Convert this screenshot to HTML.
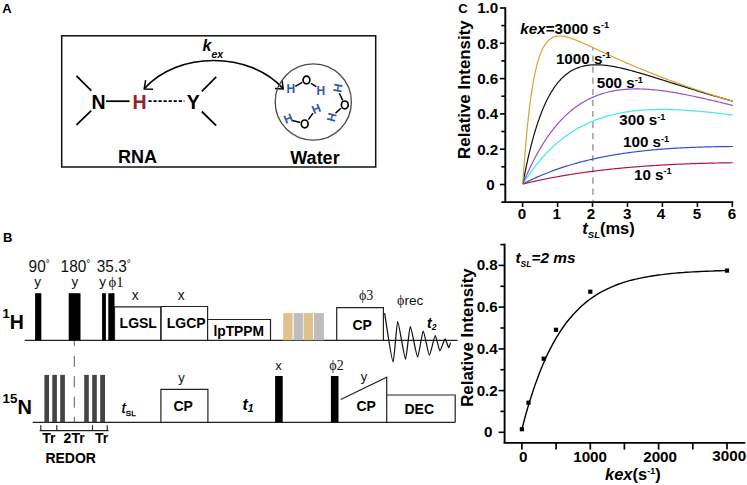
<!DOCTYPE html>
<html><head><meta charset="utf-8"><title>Figure</title>
<style>
html,body{margin:0;padding:0;background:#fff;}
body{width:747px;height:485px;overflow:hidden;}
svg{display:block;font-family:"Liberation Sans",sans-serif;}
.b{font-weight:bold;}
.i{font-style:italic;}
.ser{font-family:"Liberation Serif",serif;}
</style></head><body>
<svg width="747" height="485" viewBox="0 0 747 485">
<rect width="747" height="485" fill="#fff"/>
<!-- panel labels -->
<g class="b" font-size="13" fill="#000">
<text x="2.3" y="13">A</text>
<text x="3" y="242.2">B</text>
<text x="458.3" y="12.6">C</text>
</g>

<!-- Panel A -->
<g id="panelA">
<rect x="61.7" y="35.8" width="314" height="131.2" fill="none" stroke="#111" stroke-width="1.5"/>
<g class="b" font-size="19.5" fill="#000">
<text x="91.5" y="108.8">N</text>
<text x="132.5" y="108.8" fill="#96202a">H</text>
<text x="186.7" y="108.6">Y</text>
</g>
<g stroke="#000" stroke-width="1.75" fill="none">
<line x1="106.1" y1="101.2" x2="129.6" y2="101.2"/>
<line x1="148.4" y1="101.2" x2="184.4" y2="101.2" stroke-dasharray="3.2,1.85"/>
<line x1="76.5" y1="75.9" x2="91.3" y2="90.6"/>
<line x1="76.5" y1="124.9" x2="91.3" y2="110.6"/>
<line x1="201.8" y1="91.3" x2="216.2" y2="76.9"/>
<line x1="201.8" y1="111.5" x2="216.2" y2="125.6"/>
</g>
<g class="b" font-size="18" fill="#000">
<text x="118" y="162.6">RNA</text>
<text x="290.3" y="164.2">Water</text>
</g>
<text class="b i" font-size="16" x="202.5" y="51.4">k<tspan font-size="10.5" dy="6.2">ex</tspan></text>
<!-- arc -->
<path d="M144.4,88.6 C178,51.1 249.4,51.3 283,88.6" fill="none" stroke="#000" stroke-width="1.6"/>
<path d="M145.6,80.2 L144.2,89 L153.1,89.3" fill="none" stroke="#000" stroke-width="1.5"/>
<path d="M282.1,80.5 L283.2,88.9 L274.9,88.5" fill="none" stroke="#000" stroke-width="1.5"/>
<!-- water -->
<circle cx="313.3" cy="102" r="38.1" fill="none" stroke="#4a4a4a" stroke-width="1.3"/>
<g stroke="#000" stroke-width="1.5" fill="none">
<line x1="295.3" y1="86.3" x2="302.2" y2="82.4"/>
<line x1="311" y1="83.4" x2="316.3" y2="86.7"/>
<line x1="292.4" y1="120.6" x2="300.2" y2="122.5"/>
<line x1="308.4" y1="119.6" x2="312.9" y2="113.3"/>
<line x1="339.4" y1="93.2" x2="342.7" y2="100.4"/>
<line x1="340.9" y1="108.2" x2="335.5" y2="113.3"/>
<ellipse cx="306.5" cy="80" rx="3.4" ry="3.9" stroke-width="1.7"/>
<ellipse cx="304.7" cy="123.9" rx="3.4" ry="3.9" stroke-width="1.7"/>
<ellipse cx="344.8" cy="104.9" rx="3.4" ry="3.9" stroke-width="1.7"/>
</g>
<g class="b" font-size="12" fill="#3157b2" text-anchor="middle">
<text x="290.8" y="93.3">H</text>
<text x="320.8" y="94.9">H</text>
<text transform="translate(288.1,118.6) rotate(-22)" x="0" y="4.1">H</text>
<text transform="translate(316.3,108.8) rotate(-22)" x="0" y="4.1">H</text>
<text transform="translate(337.8,87.9) rotate(100)" x="0" y="4.1">H</text>
<text transform="translate(331.5,117.2) rotate(105)" x="0" y="4.1">H</text>
</g>
</g>

<!-- Panel B -->
<g id="panelB">
<g stroke="#222" stroke-width="1.2" fill="none">
<line x1="24.8" y1="340.3" x2="457.5" y2="340.3"/>
<line x1="32.7" y1="422.4" x2="455.3" y2="422.4"/>
<path d="M74.3,340.9 V345.8 M74.3,355.8 V366.9 M74.3,376.2 V387.3 M74.3,396.6 V407.7 M74.3,417 V422" stroke="#333" stroke-width="0.8"/>
</g>
<g fill="#000">
<rect x="35.1" y="293.2" width="6.2" height="47.1"/>
<rect x="68.7" y="293.2" width="11.8" height="47.1"/>
<rect x="102.1" y="293.2" width="3.8" height="47.1"/>
<rect x="108.3" y="293.2" width="6.2" height="47.1"/>
<rect x="275.1" y="376" width="7.6" height="46.2"/>
<rect x="330.9" y="376" width="7.6" height="46.2"/>
</g>
<g fill="#444">
<rect x="44.4" y="374.9" width="4.6" height="47.3"/>
<rect x="52.3" y="374.9" width="4.6" height="47.3"/>
<rect x="60.2" y="374.9" width="4.7" height="47.3"/>
<rect x="84.2" y="374.9" width="4.6" height="47.3"/>
<rect x="92.2" y="374.9" width="4.6" height="47.3"/>
<rect x="100.2" y="374.9" width="4.8" height="47.3"/>
</g>
<rect x="283.2" y="313.1" width="9.4" height="27.2" fill="#dfc18c"/>
<rect x="293.7" y="313.1" width="9.2" height="27.2" fill="#bdbdbd"/>
<rect x="303.6" y="313.1" width="9.4" height="27.2" fill="#dfc18c"/>
<rect x="314" y="313.1" width="9.9" height="27.2" fill="#bdbdbd"/>
<g stroke="#222" stroke-width="1.2" fill="none">
<path d="M114.5,340.3 V306.9 H160.9 V340.3"/>
<path d="M160.9,340.3 V306.5 H207.6 V340.3"/>
<path d="M207.6,319.5 H270.5 V340.3"/>
<path d="M336.7,340.3 V307.6 H383.4 V340.3"/>
<path d="M160.9,422.2 V389.3 H207.9 V422.2"/>
<path d="M340.7,399.5 L386.7,377.2 V422.2"/>
<path d="M386.8,395 H455.2 V422.2"/>
<path d="M384.6,313.2C386.6,325.2 391.7,362.0 393.2,362C394.0,362.0 396.8,321.5 397.6,321.5C399.0,321.5 404.2,359.2 405.6,359.2C406.4,359.2 409.4,326.7 410.2,326.7C411.6,326.7 416.3,357.0 417.7,357C418.7,357.0 422.2,331.0 423.2,331C424.3,331.0 428.3,355.1 429.4,355.1C430.5,355.1 434.2,335.5 435.3,335.5C436.1,335.5 439.1,350.9 439.9,350.9C440.8,350.9 444.2,338.8 445.1,338.8C445.8,338.8 448.1,347.7 448.8,347.7C449.1,347.7 450.4,342.5 450.7,342.5" stroke="#111" stroke-width="1.25"/>
<!-- brackets -->
<path d="M39.7,430.6 H108.6 M40.8,425.3 V430.6 M56.8,425.3 V430.6 M92.5,425.3 V430.6 M107.2,425.3 V430.6" stroke-width="1.15"/>
</g>
<g font-size="15.4" fill="#111" transform="translate(0,272.3) scale(1,1.08) translate(0,-272.3)">
<text x="28.6" y="272.3">90<tspan font-size="10" dy="-5.2">°</tspan></text>
<text x="60.6" y="272.3">180<tspan font-size="10" dy="-5.2">°</tspan></text>
<text x="96.8" y="272.3">35.3<tspan font-size="10" dy="-5.2">°</tspan></text>
</g>
<g font-size="13" fill="#111" text-anchor="middle">
<text x="37.6" y="285.5" font-size="13.6">y</text>
<text x="74.8" y="285.5" font-size="13.6">y</text>
<text x="102.6" y="285.5" font-size="13.6">y</text>
<text x="135.1" y="300.2" font-size="13.8">x</text>
<text x="181.1" y="300.2" font-size="13.8">x</text>
<text x="181.6" y="381.7">y</text>
<text x="278.6" y="369.9">x</text>
<text x="364" y="381">y</text>
</g>
<g class="ser" font-size="14" fill="#111">
<text x="108.5" y="286.8" font-size="14.6">ϕ1</text>
<text x="359" y="300.2">ϕ3</text>
<text x="329.3" y="370">ϕ2</text>
<text x="397" y="304.8">ϕ<tspan font-family="Liberation Sans" font-size="13.6">rec</tspan></text>
</g>
<g class="b" font-size="14" fill="#000">
<text x="119.6" y="328.3">LGSL</text>
<text x="166.8" y="328.3">LGCP</text>
<text x="213.4" y="336" font-size="13.8">lpTPPM</text>
<text x="352.5" y="329.6">CP</text>
<text x="173.5" y="410.8">CP</text>
<text x="356.5" y="411">CP</text>
<text x="404.5" y="413.5">DEC</text>
<text x="42.2" y="443.2">Tr</text>
<text x="63.6" y="443.2">2Tr</text>
<text x="95" y="443.2">Tr</text>
<text x="45.4" y="462.9">REDOR</text>
</g>
<g class="b" fill="#000">
<text x="2.5" y="318.2" font-size="13">1<tspan font-size="19.5" dy="10.4">H</tspan></text>
<text x="2.6" y="402.6" font-size="13.3">15<tspan font-size="20" dy="11.6">N</tspan></text>
</g>
<text class="i" font-size="15.5" x="121.5" y="412.6" fill="#000" stroke="#000" stroke-width="0.25">t<tspan font-size="8" font-style="normal" dy="3.3" stroke-width="0.35">SL</tspan></text>
<text class="b i" font-size="16" x="242.4" y="409.6" fill="#000">t<tspan font-size="10.5" dy="2.6">1</tspan></text>
<text class="b i" font-size="14" x="427" y="328" fill="#000">t<tspan font-size="8.5" dy="2">2</tspan></text>
</g>

<!-- Panel C top -->
<g id="chartTop">
<line x1="592.9" y1="47.9" x2="592.9" y2="201.3" stroke="#a4a4a4" stroke-width="1.6" stroke-dasharray="6.2,4.9" stroke-dashoffset="3.6"/>
<path d="M522.80,184.00 L522.86,183.99 L522.96,183.96 L523.09,183.93 L523.25,183.89 L523.43,183.85 L523.63,183.80 L523.85,183.75 L524.08,183.69 L524.33,183.63 L524.59,183.57 L524.86,183.50 L525.15,183.43 L525.45,183.36 L525.76,183.29 L526.08,183.21 L526.42,183.13 L526.76,183.05 L527.11,182.97 L527.48,182.88 L527.85,182.80 L528.24,182.71 L528.63,182.62 L529.03,182.52 L529.44,182.43 L529.86,182.33 L530.29,182.23 L530.73,182.13 L531.17,182.03 L531.62,181.93 L532.08,181.83 L532.55,181.72 L533.03,181.62 L533.51,181.51 L534.00,181.40 L534.50,181.29 L535.00,181.18 L535.51,181.07 L536.03,180.95 L536.56,180.84 L537.09,180.73 L537.63,180.61 L538.18,180.49 L538.73,180.37 L539.29,180.26 L539.85,180.14 L540.43,180.02 L541.00,179.90 L541.59,179.78 L542.18,179.65 L542.77,179.53 L543.38,179.41 L543.98,179.28 L544.60,179.16 L545.22,179.03 L545.84,178.91 L546.47,178.78 L547.11,178.66 L547.75,178.53 L548.40,178.40 L549.06,178.28 L549.72,178.15 L550.38,178.02 L551.05,177.89 L551.73,177.76 L552.41,177.64 L553.09,177.51 L553.78,177.38 L554.48,177.25 L555.18,177.12 L555.89,176.99 L556.60,176.86 L557.31,176.73 L558.04,176.60 L558.76,176.47 L559.49,176.34 L560.23,176.21 L560.97,176.08 L561.72,175.95 L562.47,175.82 L563.22,175.69 L563.98,175.56 L564.75,175.44 L565.52,175.31 L566.29,175.18 L567.07,175.05 L567.86,174.92 L568.64,174.79 L569.44,174.66 L570.23,174.53 L571.04,174.41 L571.84,174.28 L572.65,174.15 L573.47,174.02 L574.29,173.90 L575.11,173.77 L575.94,173.65 L576.77,173.52 L577.61,173.39 L578.45,173.27 L579.29,173.14 L580.14,173.02 L581.00,172.90 L581.86,172.77 L582.72,172.65 L583.58,172.53 L584.45,172.41 L585.33,172.28 L586.21,172.16 L587.09,172.04 L587.98,171.92 L588.87,171.80 L589.76,171.68 L590.66,171.56 L591.56,171.45 L592.47,171.33 L593.38,171.21 L594.30,171.10 L595.21,170.98 L596.14,170.86 L597.06,170.75 L597.99,170.64 L598.93,170.52 L599.87,170.41 L600.81,170.30 L601.75,170.19 L602.70,170.08 L603.66,169.97 L604.61,169.86 L605.57,169.75 L606.54,169.64 L607.51,169.53 L608.48,169.42 L609.45,169.32 L610.43,169.21 L611.41,169.11 L612.40,169.00 L613.39,168.90 L614.38,168.80 L615.38,168.70 L616.38,168.60 L617.39,168.50 L618.40,168.40 L619.41,168.30 L620.42,168.20 L621.44,168.10 L622.46,168.01 L623.49,167.91 L624.52,167.82 L625.55,167.72 L626.59,167.63 L627.63,167.54 L628.67,167.44 L629.72,167.35 L630.77,167.26 L631.82,167.17 L632.88,167.09 L633.94,167.00 L635.00,166.91 L636.07,166.83 L637.14,166.74 L638.21,166.66 L639.29,166.57 L640.37,166.49 L641.45,166.41 L642.54,166.33 L643.63,166.25 L644.72,166.17 L645.82,166.09 L646.92,166.01 L648.02,165.94 L649.13,165.86 L650.24,165.79 L651.35,165.71 L652.47,165.64 L653.59,165.57 L654.71,165.49 L655.83,165.42 L656.96,165.35 L658.10,165.29 L659.23,165.22 L660.37,165.15 L661.51,165.08 L662.66,165.02 L663.80,164.96 L664.96,164.89 L666.11,164.83 L667.27,164.77 L668.43,164.71 L669.59,164.65 L670.76,164.59 L671.93,164.53 L673.10,164.47 L674.27,164.41 L675.45,164.36 L676.64,164.30 L677.82,164.25 L679.01,164.20 L680.20,164.15 L681.39,164.09 L682.59,164.04 L683.79,163.99 L684.99,163.95 L686.20,163.90 L687.41,163.85 L688.62,163.81 L689.83,163.76 L691.05,163.72 L692.27,163.67 L693.50,163.63 L694.72,163.59 L695.95,163.55 L697.18,163.51 L698.42,163.47 L699.66,163.43 L700.90,163.39 L702.14,163.36 L703.39,163.32 L704.64,163.28 L705.89,163.25 L707.15,163.22 L708.41,163.19 L709.67,163.15 L710.93,163.12 L712.20,163.09 L713.47,163.06 L714.74,163.04 L716.02,163.01 L717.29,162.98 L718.58,162.96 L719.86,162.93 L721.15,162.91 L722.44,162.88 L723.73,162.86 L725.02,162.84 L726.32,162.82 L727.62,162.80 L728.92,162.78 L730.23,162.76 L731.54,162.74 L732.85,162.73" fill="none" stroke="#b01848" stroke-width="1.2" stroke-linejoin="round"/>
<path d="M522.80,184.00 L522.86,183.97 L522.96,183.92 L523.09,183.85 L523.25,183.77 L523.43,183.67 L523.63,183.57 L523.85,183.46 L524.08,183.34 L524.33,183.21 L524.59,183.08 L524.86,182.94 L525.15,182.80 L525.45,182.64 L525.76,182.49 L526.08,182.33 L526.42,182.16 L526.76,181.99 L527.11,181.81 L527.48,181.63 L527.85,181.45 L528.24,181.26 L528.63,181.07 L529.03,180.87 L529.44,180.67 L529.86,180.47 L530.29,180.27 L530.73,180.06 L531.17,179.85 L531.62,179.64 L532.08,179.42 L532.55,179.20 L533.03,178.98 L533.51,178.76 L534.00,178.53 L534.50,178.30 L535.00,178.07 L535.51,177.84 L536.03,177.61 L536.56,177.38 L537.09,177.14 L537.63,176.90 L538.18,176.66 L538.73,176.42 L539.29,176.18 L539.85,175.94 L540.43,175.69 L541.00,175.45 L541.59,175.20 L542.18,174.95 L542.77,174.71 L543.38,174.46 L543.98,174.21 L544.60,173.96 L545.22,173.71 L545.84,173.46 L546.47,173.20 L547.11,172.95 L547.75,172.70 L548.40,172.45 L549.06,172.20 L549.72,171.94 L550.38,171.69 L551.05,171.44 L551.73,171.18 L552.41,170.93 L553.09,170.68 L553.78,170.42 L554.48,170.17 L555.18,169.92 L555.89,169.67 L556.60,169.41 L557.31,169.16 L558.04,168.91 L558.76,168.66 L559.49,168.41 L560.23,168.16 L560.97,167.91 L561.72,167.66 L562.47,167.41 L563.22,167.17 L563.98,166.92 L564.75,166.67 L565.52,166.43 L566.29,166.18 L567.07,165.94 L567.86,165.70 L568.64,165.46 L569.44,165.22 L570.23,164.98 L571.04,164.74 L571.84,164.50 L572.65,164.26 L573.47,164.03 L574.29,163.79 L575.11,163.56 L575.94,163.33 L576.77,163.10 L577.61,162.87 L578.45,162.64 L579.29,162.41 L580.14,162.18 L581.00,161.96 L581.86,161.73 L582.72,161.51 L583.58,161.29 L584.45,161.07 L585.33,160.85 L586.21,160.64 L587.09,160.42 L587.98,160.21 L588.87,160.00 L589.76,159.78 L590.66,159.58 L591.56,159.37 L592.47,159.16 L593.38,158.96 L594.30,158.75 L595.21,158.55 L596.14,158.35 L597.06,158.15 L597.99,157.96 L598.93,157.76 L599.87,157.57 L600.81,157.37 L601.75,157.18 L602.70,156.99 L603.66,156.81 L604.61,156.62 L605.57,156.44 L606.54,156.26 L607.51,156.08 L608.48,155.90 L609.45,155.72 L610.43,155.54 L611.41,155.37 L612.40,155.20 L613.39,155.03 L614.38,154.86 L615.38,154.69 L616.38,154.53 L617.39,154.37 L618.40,154.20 L619.41,154.04 L620.42,153.89 L621.44,153.73 L622.46,153.58 L623.49,153.42 L624.52,153.27 L625.55,153.12 L626.59,152.98 L627.63,152.83 L628.67,152.69 L629.72,152.54 L630.77,152.40 L631.82,152.27 L632.88,152.13 L633.94,151.99 L635.00,151.86 L636.07,151.73 L637.14,151.60 L638.21,151.47 L639.29,151.35 L640.37,151.22 L641.45,151.10 L642.54,150.98 L643.63,150.86 L644.72,150.74 L645.82,150.63 L646.92,150.51 L648.02,150.40 L649.13,150.29 L650.24,150.18 L651.35,150.07 L652.47,149.97 L653.59,149.87 L654.71,149.76 L655.83,149.66 L656.96,149.57 L658.10,149.47 L659.23,149.37 L660.37,149.28 L661.51,149.19 L662.66,149.10 L663.80,149.01 L664.96,148.92 L666.11,148.84 L667.27,148.76 L668.43,148.67 L669.59,148.59 L670.76,148.52 L671.93,148.44 L673.10,148.36 L674.27,148.29 L675.45,148.22 L676.64,148.15 L677.82,148.08 L679.01,148.01 L680.20,147.95 L681.39,147.88 L682.59,147.82 L683.79,147.76 L684.99,147.70 L686.20,147.64 L687.41,147.59 L688.62,147.53 L689.83,147.48 L691.05,147.43 L692.27,147.38 L693.50,147.33 L694.72,147.28 L695.95,147.23 L697.18,147.19 L698.42,147.15 L699.66,147.11 L700.90,147.07 L702.14,147.03 L703.39,146.99 L704.64,146.95 L705.89,146.92 L707.15,146.89 L708.41,146.86 L709.67,146.82 L710.93,146.80 L712.20,146.77 L713.47,146.74 L714.74,146.72 L716.02,146.69 L717.29,146.67 L718.58,146.65 L719.86,146.63 L721.15,146.61 L722.44,146.59 L723.73,146.58 L725.02,146.56 L726.32,146.55 L727.62,146.54 L728.92,146.53 L730.23,146.52 L731.54,146.51 L732.85,146.50" fill="none" stroke="#3050d0" stroke-width="1.2" stroke-linejoin="round"/>
<path d="M522.80,184.00 L522.86,183.91 L522.96,183.75 L523.09,183.54 L523.25,183.29 L523.43,183.01 L523.63,182.70 L523.85,182.36 L524.08,182.00 L524.33,181.62 L524.59,181.21 L524.86,180.79 L525.15,180.36 L525.45,179.90 L525.76,179.43 L526.08,178.95 L526.42,178.45 L526.76,177.94 L527.11,177.41 L527.48,176.88 L527.85,176.33 L528.24,175.78 L528.63,175.21 L529.03,174.64 L529.44,174.06 L529.86,173.47 L530.29,172.87 L530.73,172.26 L531.17,171.65 L531.62,171.03 L532.08,170.41 L532.55,169.78 L533.03,169.14 L533.51,168.50 L534.00,167.86 L534.50,167.21 L535.00,166.56 L535.51,165.90 L536.03,165.25 L536.56,164.59 L537.09,163.92 L537.63,163.26 L538.18,162.59 L538.73,161.92 L539.29,161.25 L539.85,160.58 L540.43,159.91 L541.00,159.24 L541.59,158.57 L542.18,157.90 L542.77,157.23 L543.38,156.56 L543.98,155.89 L544.60,155.22 L545.22,154.55 L545.84,153.88 L546.47,153.22 L547.11,152.55 L547.75,151.89 L548.40,151.23 L549.06,150.57 L549.72,149.92 L550.38,149.26 L551.05,148.61 L551.73,147.97 L552.41,147.32 L553.09,146.68 L553.78,146.05 L554.48,145.41 L555.18,144.78 L555.89,144.15 L556.60,143.53 L557.31,142.91 L558.04,142.30 L558.76,141.69 L559.49,141.08 L560.23,140.48 L560.97,139.88 L561.72,139.29 L562.47,138.70 L563.22,138.12 L563.98,137.54 L564.75,136.97 L565.52,136.40 L566.29,135.84 L567.07,135.28 L567.86,134.73 L568.64,134.18 L569.44,133.64 L570.23,133.10 L571.04,132.57 L571.84,132.05 L572.65,131.53 L573.47,131.01 L574.29,130.51 L575.11,130.01 L575.94,129.51 L576.77,129.02 L577.61,128.54 L578.45,128.06 L579.29,127.59 L580.14,127.12 L581.00,126.66 L581.86,126.21 L582.72,125.76 L583.58,125.32 L584.45,124.89 L585.33,124.46 L586.21,124.04 L587.09,123.62 L587.98,123.21 L588.87,122.81 L589.76,122.41 L590.66,122.02 L591.56,121.63 L592.47,121.26 L593.38,120.89 L594.30,120.52 L595.21,120.16 L596.14,119.81 L597.06,119.46 L597.99,119.12 L598.93,118.79 L599.87,118.46 L600.81,118.14 L601.75,117.83 L602.70,117.52 L603.66,117.22 L604.61,116.92 L605.57,116.63 L606.54,116.35 L607.51,116.07 L608.48,115.80 L609.45,115.54 L610.43,115.28 L611.41,115.02 L612.40,114.78 L613.39,114.54 L614.38,114.30 L615.38,114.08 L616.38,113.85 L617.39,113.64 L618.40,113.43 L619.41,113.22 L620.42,113.03 L621.44,112.83 L622.46,112.65 L623.49,112.47 L624.52,112.29 L625.55,112.12 L626.59,111.96 L627.63,111.80 L628.67,111.65 L629.72,111.50 L630.77,111.36 L631.82,111.22 L632.88,111.09 L633.94,110.97 L635.00,110.85 L636.07,110.73 L637.14,110.62 L638.21,110.52 L639.29,110.42 L640.37,110.33 L641.45,110.24 L642.54,110.16 L643.63,110.08 L644.72,110.01 L645.82,109.94 L646.92,109.87 L648.02,109.82 L649.13,109.76 L650.24,109.71 L651.35,109.67 L652.47,109.63 L653.59,109.59 L654.71,109.56 L655.83,109.54 L656.96,109.52 L658.10,109.50 L659.23,109.49 L660.37,109.48 L661.51,109.48 L662.66,109.48 L663.80,109.48 L664.96,109.49 L666.11,109.50 L667.27,109.52 L668.43,109.54 L669.59,109.57 L670.76,109.59 L671.93,109.63 L673.10,109.66 L674.27,109.70 L675.45,109.75 L676.64,109.80 L677.82,109.85 L679.01,109.90 L680.20,109.96 L681.39,110.02 L682.59,110.09 L683.79,110.16 L684.99,110.23 L686.20,110.31 L687.41,110.39 L688.62,110.47 L689.83,110.56 L691.05,110.64 L692.27,110.74 L693.50,110.83 L694.72,110.93 L695.95,111.03 L697.18,111.13 L698.42,111.24 L699.66,111.35 L700.90,111.46 L702.14,111.58 L703.39,111.69 L704.64,111.82 L705.89,111.94 L707.15,112.06 L708.41,112.19 L709.67,112.32 L710.93,112.46 L712.20,112.59 L713.47,112.73 L714.74,112.87 L716.02,113.01 L717.29,113.16 L718.58,113.30 L719.86,113.45 L721.15,113.61 L722.44,113.76 L723.73,113.91 L725.02,114.07 L726.32,114.23 L727.62,114.39 L728.92,114.56 L730.23,114.72 L731.54,114.89 L732.85,115.06" fill="none" stroke="#40e8f8" stroke-width="1.2" stroke-linejoin="round"/>
<path d="M522.80,184.00 L522.86,183.86 L522.96,183.61 L523.09,183.29 L523.25,182.91 L523.43,182.48 L523.63,182.00 L523.85,181.49 L524.08,180.94 L524.33,180.36 L524.59,179.74 L524.86,179.10 L525.15,178.44 L525.45,177.74 L525.76,177.03 L526.08,176.29 L526.42,175.54 L526.76,174.77 L527.11,173.97 L527.48,173.17 L527.85,172.34 L528.24,171.51 L528.63,170.66 L529.03,169.79 L529.44,168.92 L529.86,168.03 L530.29,167.13 L530.73,166.23 L531.17,165.31 L531.62,164.39 L532.08,163.46 L532.55,162.53 L533.03,161.58 L533.51,160.64 L534.00,159.68 L534.50,158.73 L535.00,157.77 L535.51,156.80 L536.03,155.84 L536.56,154.87 L537.09,153.90 L537.63,152.93 L538.18,151.96 L538.73,150.98 L539.29,150.01 L539.85,149.04 L540.43,148.07 L541.00,147.10 L541.59,146.13 L542.18,145.17 L542.77,144.21 L543.38,143.25 L543.98,142.29 L544.60,141.34 L545.22,140.39 L545.84,139.44 L546.47,138.50 L547.11,137.56 L547.75,136.63 L548.40,135.71 L549.06,134.79 L549.72,133.87 L550.38,132.96 L551.05,132.06 L551.73,131.16 L552.41,130.27 L553.09,129.39 L553.78,128.52 L554.48,127.65 L555.18,126.79 L555.89,125.94 L556.60,125.09 L557.31,124.26 L558.04,123.43 L558.76,122.61 L559.49,121.80 L560.23,120.99 L560.97,120.20 L561.72,119.41 L562.47,118.64 L563.22,117.87 L563.98,117.11 L564.75,116.37 L565.52,115.63 L566.29,114.90 L567.07,114.18 L567.86,113.47 L568.64,112.77 L569.44,112.08 L570.23,111.40 L571.04,110.73 L571.84,110.07 L572.65,109.42 L573.47,108.79 L574.29,108.16 L575.11,107.54 L575.94,106.93 L576.77,106.33 L577.61,105.75 L578.45,105.17 L579.29,104.60 L580.14,104.05 L581.00,103.50 L581.86,102.97 L582.72,102.45 L583.58,101.93 L584.45,101.43 L585.33,100.94 L586.21,100.46 L587.09,99.99 L587.98,99.52 L588.87,99.07 L589.76,98.64 L590.66,98.21 L591.56,97.79 L592.47,97.38 L593.38,96.98 L594.30,96.59 L595.21,96.22 L596.14,95.85 L597.06,95.49 L597.99,95.15 L598.93,94.81 L599.87,94.48 L600.81,94.17 L601.75,93.86 L602.70,93.57 L603.66,93.28 L604.61,93.00 L605.57,92.74 L606.54,92.48 L607.51,92.23 L608.48,92.00 L609.45,91.77 L610.43,91.55 L611.41,91.34 L612.40,91.14 L613.39,90.95 L614.38,90.77 L615.38,90.60 L616.38,90.43 L617.39,90.28 L618.40,90.13 L619.41,90.00 L620.42,89.87 L621.44,89.75 L622.46,89.64 L623.49,89.54 L624.52,89.44 L625.55,89.36 L626.59,89.28 L627.63,89.21 L628.67,89.15 L629.72,89.10 L630.77,89.05 L631.82,89.02 L632.88,88.99 L633.94,88.97 L635.00,88.95 L636.07,88.95 L637.14,88.95 L638.21,88.96 L639.29,88.97 L640.37,88.99 L641.45,89.02 L642.54,89.06 L643.63,89.10 L644.72,89.15 L645.82,89.21 L646.92,89.27 L648.02,89.34 L649.13,89.42 L650.24,89.50 L651.35,89.59 L652.47,89.69 L653.59,89.79 L654.71,89.90 L655.83,90.01 L656.96,90.13 L658.10,90.25 L659.23,90.39 L660.37,90.52 L661.51,90.66 L662.66,90.81 L663.80,90.96 L664.96,91.12 L666.11,91.28 L667.27,91.45 L668.43,91.62 L669.59,91.80 L670.76,91.98 L671.93,92.17 L673.10,92.36 L674.27,92.56 L675.45,92.76 L676.64,92.96 L677.82,93.17 L679.01,93.38 L680.20,93.60 L681.39,93.82 L682.59,94.05 L683.79,94.28 L684.99,94.51 L686.20,94.75 L687.41,94.99 L688.62,95.23 L689.83,95.48 L691.05,95.73 L692.27,95.99 L693.50,96.24 L694.72,96.50 L695.95,96.77 L697.18,97.04 L698.42,97.31 L699.66,97.58 L700.90,97.86 L702.14,98.13 L703.39,98.42 L704.64,98.70 L705.89,98.99 L707.15,99.28 L708.41,99.57 L709.67,99.86 L710.93,100.16 L712.20,100.46 L713.47,100.76 L714.74,101.06 L716.02,101.37 L717.29,101.67 L718.58,101.98 L719.86,102.29 L721.15,102.61 L722.44,102.92 L723.73,103.24 L725.02,103.56 L726.32,103.88 L727.62,104.20 L728.92,104.52 L730.23,104.84 L731.54,105.17 L732.85,105.50" fill="none" stroke="#9050d8" stroke-width="1.2" stroke-linejoin="round"/>
<path d="M522.80,184.00 L522.86,183.69 L522.96,183.14 L523.09,182.42 L523.25,181.57 L523.43,180.62 L523.63,179.57 L523.85,178.44 L524.08,177.24 L524.33,175.97 L524.59,174.65 L524.86,173.27 L525.15,171.84 L525.45,170.37 L525.76,168.85 L526.08,167.31 L526.42,165.73 L526.76,164.12 L527.11,162.48 L527.48,160.83 L527.85,159.15 L528.24,157.46 L528.63,155.75 L529.03,154.03 L529.44,152.30 L529.86,150.57 L530.29,148.83 L530.73,147.08 L531.17,145.33 L531.62,143.59 L532.08,141.84 L532.55,140.10 L533.03,138.36 L533.51,136.63 L534.00,134.91 L534.50,133.20 L535.00,131.50 L535.51,129.81 L536.03,128.13 L536.56,126.46 L537.09,124.81 L537.63,123.18 L538.18,121.56 L538.73,119.96 L539.29,118.38 L539.85,116.82 L540.43,115.27 L541.00,113.75 L541.59,112.25 L542.18,110.77 L542.77,109.31 L543.38,107.87 L543.98,106.46 L544.60,105.07 L545.22,103.71 L545.84,102.36 L546.47,101.04 L547.11,99.75 L547.75,98.48 L548.40,97.24 L549.06,96.02 L549.72,94.83 L550.38,93.66 L551.05,92.52 L551.73,91.40 L552.41,90.31 L553.09,89.24 L553.78,88.20 L554.48,87.19 L555.18,86.20 L555.89,85.23 L556.60,84.30 L557.31,83.38 L558.04,82.49 L558.76,81.63 L559.49,80.79 L560.23,79.98 L560.97,79.19 L561.72,78.43 L562.47,77.69 L563.22,76.97 L563.98,76.28 L564.75,75.61 L565.52,74.96 L566.29,74.34 L567.07,73.74 L567.86,73.16 L568.64,72.61 L569.44,72.07 L570.23,71.56 L571.04,71.07 L571.84,70.60 L572.65,70.15 L573.47,69.73 L574.29,69.32 L575.11,68.93 L575.94,68.56 L576.77,68.21 L577.61,67.88 L578.45,67.57 L579.29,67.28 L580.14,67.00 L581.00,66.75 L581.86,66.51 L582.72,66.28 L583.58,66.08 L584.45,65.89 L585.33,65.71 L586.21,65.56 L587.09,65.41 L587.98,65.29 L588.87,65.17 L589.76,65.08 L590.66,64.99 L591.56,64.92 L592.47,64.87 L593.38,64.83 L594.30,64.80 L595.21,64.78 L596.14,64.78 L597.06,64.78 L597.99,64.80 L598.93,64.83 L599.87,64.88 L600.81,64.93 L601.75,65.00 L602.70,65.07 L603.66,65.16 L604.61,65.25 L605.57,65.36 L606.54,65.47 L607.51,65.60 L608.48,65.73 L609.45,65.87 L610.43,66.02 L611.41,66.18 L612.40,66.35 L613.39,66.52 L614.38,66.71 L615.38,66.90 L616.38,67.09 L617.39,67.30 L618.40,67.51 L619.41,67.73 L620.42,67.95 L621.44,68.18 L622.46,68.42 L623.49,68.66 L624.52,68.91 L625.55,69.16 L626.59,69.42 L627.63,69.68 L628.67,69.95 L629.72,70.23 L630.77,70.50 L631.82,70.79 L632.88,71.07 L633.94,71.37 L635.00,71.66 L636.07,71.96 L637.14,72.27 L638.21,72.57 L639.29,72.88 L640.37,73.20 L641.45,73.51 L642.54,73.84 L643.63,74.16 L644.72,74.49 L645.82,74.81 L646.92,75.15 L648.02,75.48 L649.13,75.82 L650.24,76.16 L651.35,76.50 L652.47,76.84 L653.59,77.19 L654.71,77.54 L655.83,77.89 L656.96,78.24 L658.10,78.59 L659.23,78.95 L660.37,79.31 L661.51,79.66 L662.66,80.02 L663.80,80.39 L664.96,80.75 L666.11,81.11 L667.27,81.48 L668.43,81.84 L669.59,82.21 L670.76,82.58 L671.93,82.95 L673.10,83.32 L674.27,83.69 L675.45,84.06 L676.64,84.43 L677.82,84.80 L679.01,85.18 L680.20,85.55 L681.39,85.92 L682.59,86.30 L683.79,86.67 L684.99,87.05 L686.20,87.42 L687.41,87.80 L688.62,88.17 L689.83,88.55 L691.05,88.93 L692.27,89.30 L693.50,89.68 L694.72,90.05 L695.95,90.43 L697.18,90.81 L698.42,91.18 L699.66,91.56 L700.90,91.93 L702.14,92.31 L703.39,92.68 L704.64,93.06 L705.89,93.43 L707.15,93.81 L708.41,94.18 L709.67,94.56 L710.93,94.93 L712.20,95.30 L713.47,95.68 L714.74,96.05 L716.02,96.42 L717.29,96.79 L718.58,97.16 L719.86,97.54 L721.15,97.91 L722.44,98.28 L723.73,98.64 L725.02,99.01 L726.32,99.38 L727.62,99.75 L728.92,100.11 L730.23,100.48 L731.54,100.85 L732.85,101.21" fill="none" stroke="#111" stroke-width="1.2" stroke-linejoin="round"/>
<path d="M522.80,184.00 L522.86,183.13 L522.96,181.55 L523.09,179.52 L523.25,177.16 L523.43,174.52 L523.63,171.65 L523.85,168.60 L524.08,165.38 L524.33,162.04 L524.59,158.59 L524.86,155.06 L525.15,151.46 L525.45,147.81 L525.76,144.13 L526.08,140.42 L526.42,136.72 L526.76,133.01 L527.11,129.33 L527.48,125.66 L527.85,122.04 L528.24,118.45 L528.63,114.92 L529.03,111.44 L529.44,108.03 L529.86,104.68 L530.29,101.41 L530.73,98.21 L531.17,95.09 L531.62,92.05 L532.08,89.10 L532.55,86.23 L533.03,83.45 L533.51,80.76 L534.00,78.17 L534.50,75.66 L535.00,73.24 L535.51,70.92 L536.03,68.68 L536.56,66.54 L537.09,64.49 L537.63,62.52 L538.18,60.64 L538.73,58.85 L539.29,57.14 L539.85,55.52 L540.43,53.98 L541.00,52.52 L541.59,51.13 L542.18,49.83 L542.77,48.59 L543.38,47.43 L543.98,46.34 L544.60,45.32 L545.22,44.36 L545.84,43.47 L546.47,42.64 L547.11,41.87 L547.75,41.15 L548.40,40.50 L549.06,39.89 L549.72,39.34 L550.38,38.84 L551.05,38.38 L551.73,37.98 L552.41,37.61 L553.09,37.29 L553.78,37.01 L554.48,36.76 L555.18,36.56 L555.89,36.38 L556.60,36.25 L557.31,36.14 L558.04,36.07 L558.76,36.02 L559.49,36.00 L560.23,36.01 L560.97,36.05 L561.72,36.10 L562.47,36.18 L563.22,36.29 L563.98,36.41 L564.75,36.55 L565.52,36.71 L566.29,36.89 L567.07,37.08 L567.86,37.29 L568.64,37.52 L569.44,37.76 L570.23,38.01 L571.04,38.27 L571.84,38.55 L572.65,38.83 L573.47,39.13 L574.29,39.44 L575.11,39.76 L575.94,40.08 L576.77,40.42 L577.61,40.76 L578.45,41.11 L579.29,41.46 L580.14,41.83 L581.00,42.19 L581.86,42.57 L582.72,42.95 L583.58,43.33 L584.45,43.72 L585.33,44.12 L586.21,44.51 L587.09,44.91 L587.98,45.32 L588.87,45.73 L589.76,46.14 L590.66,46.56 L591.56,46.97 L592.47,47.39 L593.38,47.82 L594.30,48.24 L595.21,48.67 L596.14,49.10 L597.06,49.53 L597.99,49.96 L598.93,50.40 L599.87,50.83 L600.81,51.27 L601.75,51.71 L602.70,52.15 L603.66,52.59 L604.61,53.03 L605.57,53.47 L606.54,53.92 L607.51,54.36 L608.48,54.81 L609.45,55.25 L610.43,55.70 L611.41,56.15 L612.40,56.59 L613.39,57.04 L614.38,57.49 L615.38,57.94 L616.38,58.39 L617.39,58.84 L618.40,59.28 L619.41,59.73 L620.42,60.18 L621.44,60.63 L622.46,61.08 L623.49,61.53 L624.52,61.98 L625.55,62.43 L626.59,62.88 L627.63,63.33 L628.67,63.78 L629.72,64.23 L630.77,64.68 L631.82,65.13 L632.88,65.58 L633.94,66.03 L635.00,66.48 L636.07,66.93 L637.14,67.37 L638.21,67.82 L639.29,68.27 L640.37,68.72 L641.45,69.16 L642.54,69.61 L643.63,70.06 L644.72,70.50 L645.82,70.95 L646.92,71.39 L648.02,71.84 L649.13,72.28 L650.24,72.73 L651.35,73.17 L652.47,73.61 L653.59,74.06 L654.71,74.50 L655.83,74.94 L656.96,75.38 L658.10,75.82 L659.23,76.26 L660.37,76.70 L661.51,77.14 L662.66,77.58 L663.80,78.01 L664.96,78.45 L666.11,78.89 L667.27,79.32 L668.43,79.76 L669.59,80.19 L670.76,80.62 L671.93,81.06 L673.10,81.49 L674.27,81.92 L675.45,82.35 L676.64,82.78 L677.82,83.21 L679.01,83.64 L680.20,84.07 L681.39,84.50 L682.59,84.92 L683.79,85.35 L684.99,85.77 L686.20,86.20 L687.41,86.62 L688.62,87.04 L689.83,87.46 L691.05,87.88 L692.27,88.30 L693.50,88.72 L694.72,89.14 L695.95,89.56 L697.18,89.98 L698.42,90.39 L699.66,90.81 L700.90,91.22 L702.14,91.63 L703.39,92.05 L704.64,92.46 L705.89,92.87 L707.15,93.28 L708.41,93.69 L709.67,94.10 L710.93,94.50 L712.20,94.91 L713.47,95.31 L714.74,95.72 L716.02,96.12 L717.29,96.52 L718.58,96.92 L719.86,97.32 L721.15,97.72 L722.44,98.12 L723.73,98.52 L725.02,98.91 L726.32,99.31 L727.62,99.70 L728.92,100.10 L730.23,100.49 L731.54,100.88 L732.85,101.27" fill="none" stroke="#e0a030" stroke-width="1.2" stroke-linejoin="round"/>

<g stroke="#000" stroke-width="1.5" fill="none">
<path d="M505.3,7.2 V202" stroke-width="1.9"/><path d="M501.4,202.2 H733.2" stroke-width="1.7"/>
<line x1="499.9" y1="8.0" x2="505" y2="8.0" stroke-width="1.6"/><line x1="501.3" y1="25.6" x2="505" y2="25.6" stroke-width="1.6"/><line x1="499.9" y1="43.3" x2="505" y2="43.3" stroke-width="1.6"/><line x1="501.3" y1="60.9" x2="505" y2="60.9" stroke-width="1.6"/><line x1="499.9" y1="78.6" x2="505" y2="78.6" stroke-width="1.6"/><line x1="501.3" y1="96.2" x2="505" y2="96.2" stroke-width="1.6"/><line x1="499.9" y1="113.9" x2="505" y2="113.9" stroke-width="1.6"/><line x1="501.3" y1="131.5" x2="505" y2="131.5" stroke-width="1.6"/><line x1="499.9" y1="149.2" x2="505" y2="149.2" stroke-width="1.6"/><line x1="501.3" y1="166.8" x2="505" y2="166.8" stroke-width="1.6"/><line x1="499.9" y1="184.5" x2="505" y2="184.5" stroke-width="1.6"/><line x1="522.6" y1="202" x2="522.6" y2="206.9" stroke-width="1.6"/><line x1="557.6" y1="202" x2="557.6" y2="206.9" stroke-width="1.6"/><line x1="592.5" y1="202" x2="592.5" y2="206.9" stroke-width="1.6"/><line x1="627.5" y1="202" x2="627.5" y2="206.9" stroke-width="1.6"/><line x1="662.4" y1="202" x2="662.4" y2="206.9" stroke-width="1.6"/><line x1="697.4" y1="202" x2="697.4" y2="206.9" stroke-width="1.6"/><line x1="732.3" y1="202" x2="732.3" y2="206.9" stroke-width="1.6"/>
</g>
<g class="b" font-size="15.2" fill="#000">
<text x="498.3" y="13.4" text-anchor="end">1.0</text><text x="498.3" y="48.8" text-anchor="end">0.8</text><text x="498.3" y="84.0" text-anchor="end">0.6</text><text x="498.3" y="119.3" text-anchor="end">0.4</text><text x="498.3" y="154.6" text-anchor="end">0.2</text><text x="494.6" y="189.9" text-anchor="end">0</text>
<text x="522.0" y="219.4" text-anchor="middle">0</text><text x="556.8" y="219.4" text-anchor="middle">1</text><text x="591.1" y="219.4" text-anchor="middle">2</text><text x="627.2" y="219.4" text-anchor="middle">3</text><text x="661.0" y="219.4" text-anchor="middle">4</text><text x="697.0" y="219.4" text-anchor="middle">5</text><text x="732.0" y="219.4" text-anchor="middle">6</text>
<text x="520.3" y="33.8"><tspan class="i">kex</tspan>=3000 s<tspan font-size="9.2" dy="-5.5">-1</tspan></text>
<text x="555.9" y="63.9">1000 s<tspan font-size="9.2" dy="-5.5">-1</tspan></text>
<text x="596.7" y="88.3">500 s<tspan font-size="9.2" dy="-5.5">-1</tspan></text>
<text x="619.3" y="125.4">300 s<tspan font-size="9.2" dy="-5.5">-1</tspan></text>
<text x="623" y="147.4">100 s<tspan font-size="9.2" dy="-5.5">-1</tspan></text>
<text x="634" y="179.7">10 s<tspan font-size="9.2" dy="-5.5">-1</tspan></text>
</g>
<text class="b" font-size="16.85" transform="translate(469.8,158.9) rotate(-90)" fill="#000">Relative Intensity</text>
<text class="b" font-size="16.5" x="582.3" y="234.2" fill="#000"><tspan class="i">t</tspan><tspan class="i" font-size="9.5" dy="3.6">SL</tspan><tspan dy="-3.6">(ms)</tspan></text>
</g>

<!-- Panel C bottom -->
<g id="chartBot">
<path d="M521.9,429.2 L525.3,416.3 L528.7,404.4 L532.2,393.5 L535.6,383.4 L539.0,374.2 L542.4,365.7 L545.8,357.9 L549.2,350.8 L552.7,344.2 L556.1,338.1 L559.5,332.6 L562.9,327.5 L566.3,322.8 L569.8,318.5 L573.2,314.5 L576.6,310.9 L580.0,307.5 L583.4,304.5 L586.8,301.6 L590.3,299.0 L593.7,296.6 L597.1,294.4 L600.5,292.4 L603.9,290.6 L607.4,288.9 L610.8,287.3 L614.2,285.9 L617.6,284.5 L621.0,283.3 L624.4,282.2 L627.9,281.2 L631.3,280.2 L634.7,279.4 L638.1,278.6 L641.5,277.9 L645.0,277.2 L648.4,276.6 L651.8,276.0 L655.2,275.5 L658.6,275.0 L662.1,274.6 L665.5,274.1 L668.9,273.8 L672.3,273.4 L675.7,273.1 L679.1,272.8 L682.6,272.6 L686.0,272.3 L689.4,272.1 L692.8,271.9 L696.2,271.7 L699.7,271.5 L703.1,271.4 L706.5,271.2 L709.9,271.1 L713.3,271.0 L716.7,270.8 L720.2,270.7 L723.6,270.6 L727.0,270.6" fill="none" stroke="#000" stroke-width="1.4"/>
<rect x="519.8" y="427.1" width="4.2" height="4.2" fill="#000"/><rect x="526.4" y="400.6" width="4.2" height="4.2" fill="#000"/><rect x="541.6" y="356.6" width="4.2" height="4.2" fill="#000"/><rect x="553.9" y="327.7" width="4.2" height="4.2" fill="#000"/><rect x="588.2" y="289.6" width="4.2" height="4.2" fill="#000"/><rect x="724.9" y="268.5" width="4.2" height="4.2" fill="#000"/>
<g stroke="#000" stroke-width="1.5" fill="none">
<path d="M504.6,243.7 V443.3" stroke-width="1.9"/><path d="M503.7,442.8 H745.3" stroke-width="1.8"/>
<line x1="498.6" y1="432.3" x2="504.6" y2="432.3" stroke-width="1.6"/><line x1="500.4" y1="411.4" x2="504.6" y2="411.4" stroke-width="1.6"/><line x1="498.6" y1="390.6" x2="504.6" y2="390.6" stroke-width="1.6"/><line x1="500.4" y1="369.7" x2="504.6" y2="369.7" stroke-width="1.6"/><line x1="498.6" y1="348.9" x2="504.6" y2="348.9" stroke-width="1.6"/><line x1="500.4" y1="328.0" x2="504.6" y2="328.0" stroke-width="1.6"/><line x1="498.6" y1="307.1" x2="504.6" y2="307.1" stroke-width="1.6"/><line x1="500.4" y1="286.3" x2="504.6" y2="286.3" stroke-width="1.6"/><line x1="498.6" y1="265.4" x2="504.6" y2="265.4" stroke-width="1.6"/><line x1="500.4" y1="244.6" x2="504.6" y2="244.6" stroke-width="1.6"/><line x1="521.9" y1="442.5" x2="521.9" y2="449.6" stroke-width="1.7"/><line x1="556.1" y1="442.5" x2="556.1" y2="449.6" stroke-width="1.7"/><line x1="590.3" y1="442.5" x2="590.3" y2="449.6" stroke-width="1.7"/><line x1="624.4" y1="442.5" x2="624.4" y2="449.6" stroke-width="1.7"/><line x1="658.6" y1="442.5" x2="658.6" y2="449.6" stroke-width="1.7"/><line x1="692.8" y1="442.5" x2="692.8" y2="449.6" stroke-width="1.7"/><line x1="727.0" y1="442.5" x2="727.0" y2="449.6" stroke-width="1.7"/>
</g>
<g class="b" font-size="15.2" fill="#000">
<text x="492.5" y="437.3" text-anchor="end">0</text><text x="497.8" y="395.6" text-anchor="end">0.2</text><text x="497.8" y="353.9" text-anchor="end">0.4</text><text x="497.8" y="312.1" text-anchor="end">0.6</text><text x="497.8" y="270.4" text-anchor="end">0.8</text>
<text x="523.2" y="461.9" text-anchor="middle">0</text><text x="590.1" y="461.9" text-anchor="middle">1000</text><text x="660.1" y="461.9" text-anchor="middle">2000</text><text x="729.2" y="460.8" text-anchor="middle">3000</text>
</g>
<text class="b i" font-size="15.4" x="515.4" y="263.3" fill="#000">t<tspan font-size="8.5" dy="3.4">SL</tspan><tspan dy="-3.4">=2 ms</tspan></text>
<text class="b" font-size="16.85" transform="translate(473.2,406.8) rotate(-90)" fill="#000">Relative Intensity</text>
<text class="b" font-size="16.5" x="605" y="480.3" fill="#000"><tspan class="i">kex</tspan>(s<tspan font-size="9" dy="-6">-1</tspan><tspan dy="6">)</tspan></text>
</g>
</svg>
</body></html>
